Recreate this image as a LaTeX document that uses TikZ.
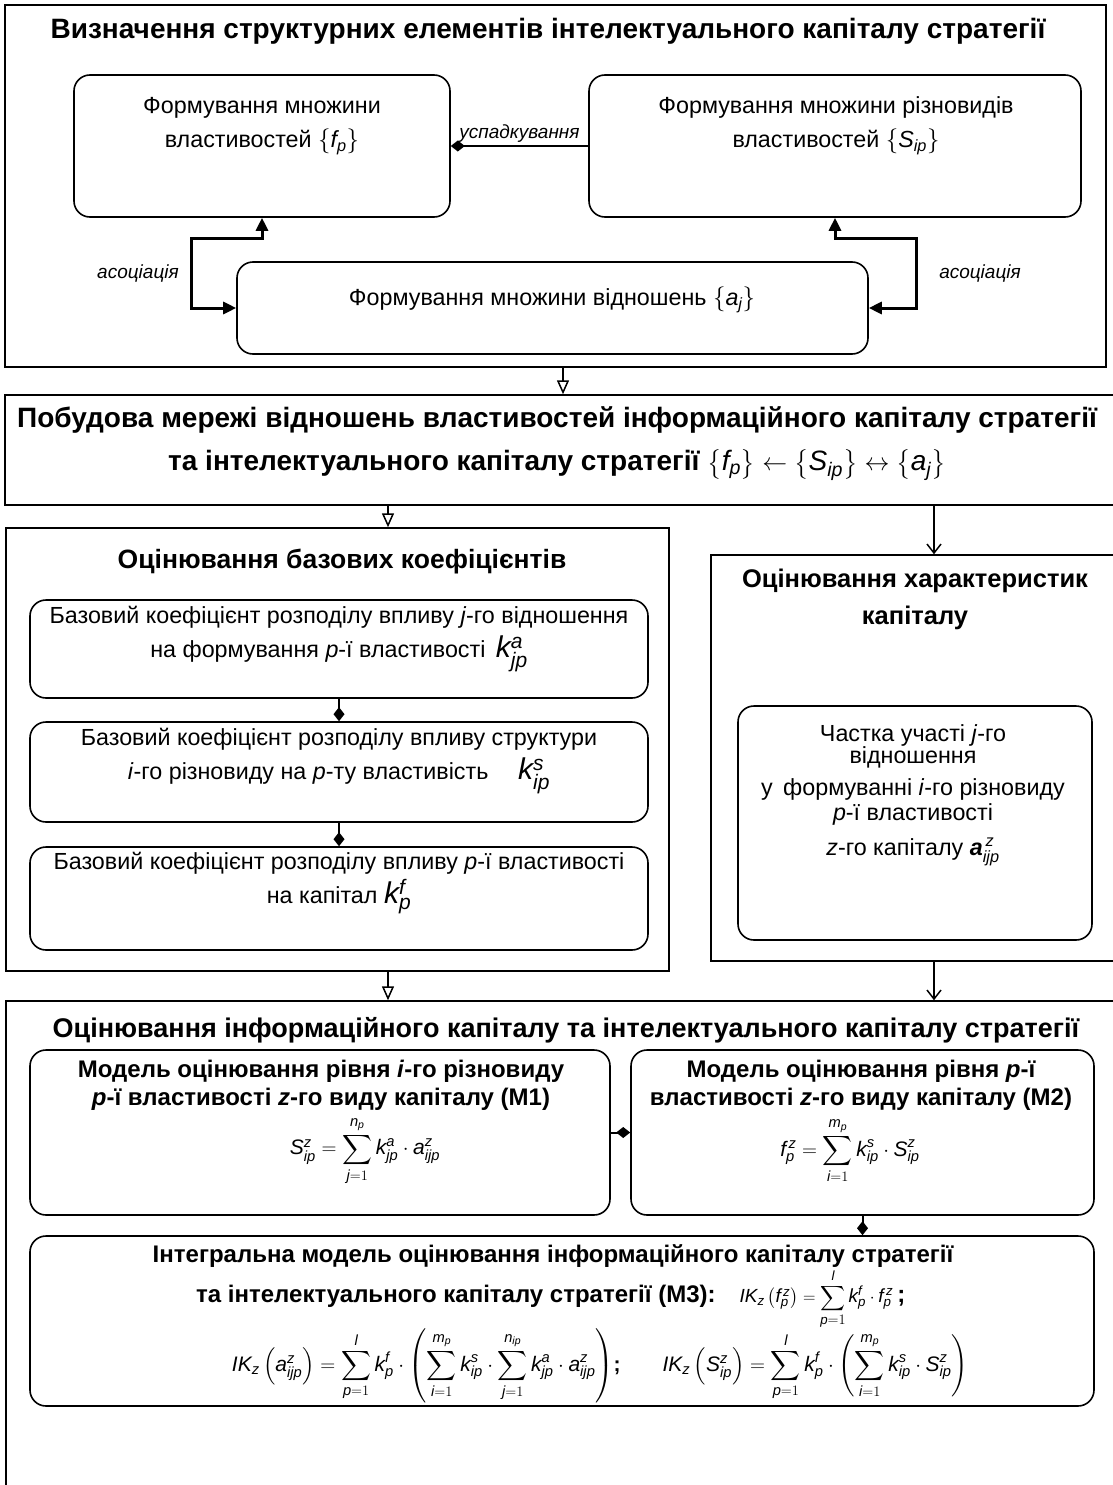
\documentclass[tikz,border=0pt]{standalone}
\usepackage{amsmath}
\usepackage{fontspec}
\setmainfont{Liberation Sans}
\DeclareSymbolFont{letters}{TU}{\rmdefault}{m}{it}
\usetikzlibrary{arrows.meta, positioning}
\newcommand{\headfont}{\fontsize{28}{43}\selectfont\bfseries}
\newcommand{\subheadfont}{\fontsize{24}{28}\selectfont\bfseries}
\newcommand{\bodyfont}{\fontsize{23.3}{34}\selectfont}
\newcommand{\formfont}{\fontsize{21}{26}\selectfont}
\newcommand{\tagfont}{\fontsize{19}{22}\selectfont\itshape}
\newcommand{\bigk}[2]{{\fontsize{30}{34}\selectfont$k^{#1}_{#2}$}}
\tikzset{
  panel/.style={draw, line width=1.5pt, inner sep=0pt},
  item/.style={draw, line width=1.6pt, rounded corners=16pt, inner sep=0pt},
  head/.style={font=\headfont, align=center, inner sep=0pt},
  subhead/.style={font=\subheadfont, align=center, inner sep=0pt},
  body/.style={font=\bodyfont, align=center, inner sep=0pt},
  formula/.style={font=\formfont, align=center, inner sep=0pt},
  tag/.style={font=\tagfont, inner sep=3pt},
  flow/.style={-{Triangle[open, length=14pt, width=12pt]}, line width=1.5pt},
  flowb/.style={-{Straight Barb[length=9pt, width=14pt]}, line width=1.5pt},
  assoc/.style={{Triangle[length=13pt, width=12pt]}-{Triangle[length=13pt, width=12pt]}, line width=3pt},
  link/.style={{Diamond[length=14pt, width=11pt]}-, line width=2pt},
  joint/.style={-{Diamond[length=14pt, width=11pt]}, line width=2pt}
}
\begin{document}
\begin{tikzpicture}[x=1pt, y=1pt]
  \useasboundingbox (0,0) rectangle (1112,-1485);

  % structural elements
  \node[panel, minimum width=1101, minimum height=362] (defbox) at (555.5,-186) {};
  \node[head] (deftitle) at (548,-31) {Визначення структурних елементів інтелектуального капіталу стратегії};

  \node[item, minimum width=376, minimum height=142] (props) at (262,-146) {};
  \node[body] (propstext) at (262,-126) {Формування множини\\властивостей $\left\{f_p\right\}$};
  \node[item, minimum width=492, minimum height=142] (kinds) at (835,-146) {};
  \node[body] (kindstext) at (836,-126) {Формування множини різновидів\\властивостей $\left\{S_{ip}\right\}$};
  \node[item, minimum width=631, minimum height=92] (rels) at (552.5,-308) {};
  \node[body] (relstext) at (552,-300) {Формування множини відношень $\left\{a_j\right\}$};

  \draw[link] (props) -- node[tag, above] {успадкування} (kinds);

  \coordinate (lbend) at (191,-238);
  \coordinate (rbend) at (916,-238);
  \draw[assoc] (props.south) |- (lbend) |- (rels.west);
  \draw[assoc] (kinds.south) |- (rbend) |- (rels.east);
  \node[tag] (assocL) at (138,-274) {асоціація};
  \node[tag] (assocR) at (980,-274) {асоціація};

  % network of relations
  \node[panel, minimum width=1111, minimum height=110] (netbox) at (560.5,-450) {};
  \node[head] (nettitle) at (557,-443.5) {Побудова мережі відношень властивостей інформаційного капіталу стратегії\\
    та інтелектуального капіталу стратегії $\left\{f_p\right\}\leftarrow\left\{S_{ip}\right\}\leftrightarrow\left\{a_j\right\}$};

  % base coefficients
  \node[panel, minimum width=663, minimum height=443] (basebox) at (337.5,-749.5) {};
  \node[head, font=\fontsize{26.5}{30}\selectfont\bfseries] (basetitle) at (342,-562) {Оцінювання базових коефіцієнтів};

  \node[item, minimum width=618, minimum height=98] (kja) at (339,-649) {};
  \node[body] (kjatext) at (339,-639) {Базовий коефіцієнт розподілу впливу \textit{j}-го відношення\\
    на формування \textit{p}-ї властивості \,\bigk{a}{jp}};
  \node[item, minimum width=618, minimum height=100] (kis) at (339,-772) {};
  \node[body] (kistext) at (339,-761) {Базовий коефіцієнт розподілу впливу структури\\
    \textit{i}-го різновиду на \textit{p}-ту властивість \quad\bigk{s}{ip}};
  \node[item, minimum width=618, minimum height=103] (kpf) at (339,-898.5) {};
  \node[body] (kpftext) at (339,-883) {Базовий коефіцієнт розподілу впливу \textit{p}-ї властивості\\
    на капітал \bigk{f}{p}};

  \draw[joint] (kja.south) -- (kis.north);
  \draw[joint] (kis.south) -- (kpf.north);

  % capital characteristics
  \node[panel, minimum width=405, minimum height=406] (charbox) at (913.5,-758) {};
  \node[head, font=\fontsize{25.5}{37}\selectfont\bfseries] (chartitle) at (915,-599) {Оцінювання характеристик\\капіталу};

  \node[item, minimum width=354, minimum height=234] (share) at (915,-823) {};
  \node[body, font=\fontsize{23.3}{22}\selectfont, anchor=north] (sharetext) at (913,-724) {Частка участі \textit{j}-го\\
    відношення\\[10pt]
    у\, формуванні \textit{i}-го різновиду\\[3pt]
    \textit{p}-ї властивості\\[12pt]
    \textit{z}-го капіталу $\textbf{\textit{a}}^{\,z}_{ijp}$};

  % evaluation of capital
  \node[panel, minimum width=1110, minimum height=499] (evalbox) at (561,-1250.5) {};
  \node[head, font=\fontsize{27}{30}\selectfont\bfseries] (evaltitle) at (566,-1030) {Оцінювання інформаційного капіталу та інтелектуального капіталу стратегії};

  \node[item, minimum width=580, minimum height=165] (mone) at (320,-1132.5) {};
  \node[subhead] (monetext) at (321,-1085) {Модель оцінювання рівня \textit{i}-го різновиду\\
    \textit{p}-ї властивості \textit{z}-го виду капіталу (М1)};
  \node[formula] (moneform) at (365,-1151) {$S^{z}_{ip}=\displaystyle\sum_{j=1}^{n_p}k^{a}_{jp}\cdot a^{z}_{ijp}$};

  \node[item, minimum width=463, minimum height=165] (mtwo) at (862.5,-1132.5) {};
  \node[subhead] (mtwotext) at (861,-1085) {Модель оцінювання рівня \textit{p}-ї\\
    властивості \textit{z}-го виду капіталу (М2)};
  \node[formula] (mtwoform) at (850,-1151) {$f^{\,z}_{p}=\displaystyle\sum_{i=1}^{m_p}k^{s}_{ip}\cdot S^{z}_{ip}$};

  \node[item, minimum width=1064, minimum height=170] (mthree) at (562,-1321) {};
  \node[subhead] (mthreetext) at (553,-1256) {Інтегральна модель оцінювання інформаційного капіталу стратегії};
  \node[subhead, anchor=west] (mthreeline) at (196,-1299) {та інтелектуального капіталу стратегії (М3):\quad
    {\mdseries\fontsize{19}{22}\selectfont $IK_z\left(f^{\,z}_{p}\right)=\displaystyle\sum_{p=1}^{l}k^{f}_{p}\cdot f^{\,z}_{p}$}\,;};
  \node[formula] (mthreeform) at (600,-1366) {$IK_z\left(a^{z}_{ijp}\right)=\displaystyle\sum_{p=1}^{l}k^{f}_{p}\cdot
    \left(\sum_{i=1}^{m_p}k^{s}_{ip}\cdot\sum_{j=1}^{n_{ip}}k^{a}_{jp}\cdot a^{z}_{ijp}\right)$\textbf{;}\qquad
    $IK_z\left(S^{z}_{ip}\right)=\displaystyle\sum_{p=1}^{l}k^{f}_{p}\cdot\left(\sum_{i=1}^{m_p}k^{s}_{ip}\cdot S^{z}_{ip}\right)$};

  \draw[joint] (mone.east) -- (mtwo.west);
  \draw[joint] (mtwo.south) -- (mtwo.south |- mthree.north);

  % flow between stages
  \coordinate (colM) at (563,0);
  \coordinate (colL) at (388,0);
  \coordinate (colR) at (934,0);
  \draw[flow] (defbox.south -| colM) -- (netbox.north -| colM);
  \draw[flow] (netbox.south -| colL) -- (basebox.north -| colL);
  \draw[flowb] (netbox.south -| colR) -- (charbox.north -| colR);
  \draw[flow] (basebox.south -| colL) -- (evalbox.north -| colL);
  \draw[flowb] (charbox.south -| colR) -- (evalbox.north -| colR);
\end{tikzpicture}
\end{document}
